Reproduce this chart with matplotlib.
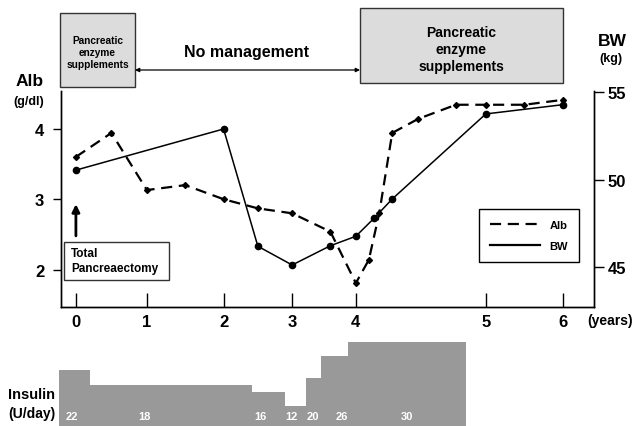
import matplotlib
matplotlib.use('Agg')
import matplotlib.pyplot as plt
from matplotlib.patches import Rectangle
from matplotlib.lines import Line2D
import numpy as np

plt.rcParams['font.family'] = ['Liberation Sans', 'DejaVu Sans']
plt.rcParams['font.weight'] = 'bold'

# serum albumin (g/dl)
alb_years = [0, 0.5, 1, 1.5, 2, 2.5, 3, 3.6, 4, 4.1, 4.18, 4.28, 4.48, 4.77, 5, 5.5, 6]
alb = [3.6, 3.94, 3.13, 3.2, 3.0, 2.87, 2.8, 2.54, 1.81, 2.14, 2.8, 3.94, 4.14, 4.34, 4.34, 4.34, 4.41]

# body weight (kg)
bw_years = [0, 2, 2.5, 3, 3.6, 4, 4.14, 4.28, 5, 6]
bw = [50.55, 52.9, 46.2, 45.13, 46.23, 46.77, 47.8, 48.9, 53.76, 54.29]

# insulin dose periods (U/day)
insulin_edges = [-0.235, 0.197, 2.408, 2.894, 3.215, 3.45, 3.87, 4.85]
insulin = [22, 18, 16, 12, 20, 26, 30]
insulin_label_x = [-0.056, 0.972, 2.53, 2.996, 3.325, 3.78, 4.39]

year_ticks = [0, 1, 2, 3, 4, 5, 6]

# the time axis is drawn unevenly spaced
knot_years = [-1, 0, 1, 2, 3, 4, 5, 6, 7]
knot_pos = [5, 76, 147, 223.7, 292.3, 356, 486, 563.3, 640.6]

def fwd(x):
    return np.interp(x, knot_years, knot_pos)

def inv(p):
    return np.interp(p, knot_pos, knot_years)

W, H = 638, 427
def fx(px):
    return px / W
def fy(py):
    return 1 - py / H

fig = plt.figure(figsize=(6.38, 4.27), dpi=100)
ax = fig.add_axes([fx(61), fy(308), fx(594) - fx(61), fy(92) - fy(308)])
ax.set_xscale('function', functions=(fwd, inv))
ax.set_xlim(-0.21, 6.4)
ax.set_ylim(1.471, 4.535)

ax2 = ax.twinx()
ax2.set_ylim(42.73, 55.07)

ax.plot(alb_years, alb, color='k', lw=1.6, ls=(0, (5, 3)), marker='D', ms=3)
ax2.plot(bw_years, bw, color='k', lw=1.1, marker='o', ms=4.5)

for a in (ax, ax2):
    a.spines['top'].set_visible(False)
    a.spines['left'].set_linewidth(1)
    a.spines['right'].set_linewidth(1)
    a.spines['bottom'].set_linewidth(1)

ax.set_xticks(year_ticks)
ax.set_xticklabels([str(t) for t in year_ticks])
ax.xaxis.set_minor_locator(plt.NullLocator())
ax.tick_params(axis='x', direction='in', length=10, width=1, labelsize=12, pad=5)
ax.set_yticks([2, 3, 4])
ax.tick_params(axis='y', direction='out', length=6, width=1, labelsize=12, pad=6)
ax2.set_yticks([45, 50, 55])
ax2.tick_params(axis='y', direction='out', length=7, width=1, labelsize=12, pad=3)

fig.text(fx(610), fy(321), '(years)', fontsize=10, ha='center', va='center')
fig.text(fx(30), fy(81), 'Alb', fontsize=12.5, ha='center', va='center')
fig.text(fx(29), fy(102), '(g/dl)', fontsize=9, ha='center', va='center')
fig.text(fx(598), fy(41), 'BW', fontsize=12.5, ha='left', va='center')
fig.text(fx(599), fy(59), '(kg)', fontsize=9, ha='left', va='center')

leg_handles = [Line2D([], [], color='k', lw=1.6, ls=(0, (5, 3))),
               Line2D([], [], color='k', lw=1.6)]
leg = fig.legend(leg_handles, ['Alb', 'BW'], loc='upper right',
                 bbox_to_anchor=(fx(579.3), fy(210)), fontsize=8,
                 fancybox=False, edgecolor='k', framealpha=1,
                 handlelength=4.5, handletextpad=0.9, labelspacing=1.0,
                 borderpad=1.0, borderaxespad=0)
leg.get_frame().set_linewidth(1)

# treatment boxes above the plot
fig.add_artist(Rectangle((fx(60), fy(88)), fx(135) - fx(60), fy(14) - fy(88),
                         transform=fig.transFigure, facecolor='#dcdcdc',
                         edgecolor='#333333', lw=1))
fig.text(fx(97.5), fy(53), 'Pancreatic\nenzyme\nsupplements', fontsize=7.3,
         ha='center', va='center', linespacing=1.3)
fig.add_artist(Rectangle((fx(360), fy(84)), fx(563) - fx(360), fy(9) - fy(84),
                         transform=fig.transFigure, facecolor='#dcdcdc',
                         edgecolor='#333333', lw=1))
fig.text(fx(461.5), fy(50), 'Pancreatic\nenzyme\nsupplements', fontsize=10,
         ha='center', va='center', linespacing=1.3)
fig.text(fx(247), fy(52), 'No management', fontsize=11.5, ha='center', va='center')
fig.add_artist(plt.Annotation('', xy=(fx(135), fy(71)), xytext=(fx(360), fy(71)),
                              xycoords='figure fraction', textcoords='figure fraction',
                              arrowprops=dict(arrowstyle='<|-|>', lw=0.9, color='k',
                                              mutation_scale=6, shrinkA=0, shrinkB=0)))

# operation marker
ax.annotate('', xy=(0, 2.93), xytext=(0, 2.48),
            arrowprops=dict(arrowstyle='-|>', lw=2, color='k', mutation_scale=11,
                            shrinkA=0, shrinkB=0))
fig.add_artist(Rectangle((fx(64), fy(281.3)), fx(169) - fx(64), fy(242.7) - fy(281.3),
                         transform=fig.transFigure, facecolor='white',
                         edgecolor='#333333', lw=1))
fig.text(fx(71), fy(261.5), 'Total\nPancreaectomy', fontsize=8.5,
         ha='left', va='center', linespacing=1.35)

# insulin dose strip
axi = fig.add_axes([fx(61), 0, fx(594) - fx(61), fy(340)], sharex=ax)
axi.set_ylim(6.3, 30.9)
widths = np.diff(insulin_edges)
axi.bar(insulin_edges[:-1], np.array(insulin) - 6.3, width=widths, bottom=6.3,
        align='edge', color='#999999', clip_on=False)
for xl, v in zip(insulin_label_x, insulin):
    axi.text(xl, 0.11, str(v), transform=axi.get_xaxis_transform(), color='white',
             fontsize=8, ha='center', va='center')
axi.axis('off')

fig.text(fx(55), fy(395), 'Insulin', fontsize=10.5, ha='right', va='center')
fig.text(fx(55), fy(414), '(U/day)', fontsize=10, ha='right', va='center')

plt.savefig('out.png', dpi=100)
